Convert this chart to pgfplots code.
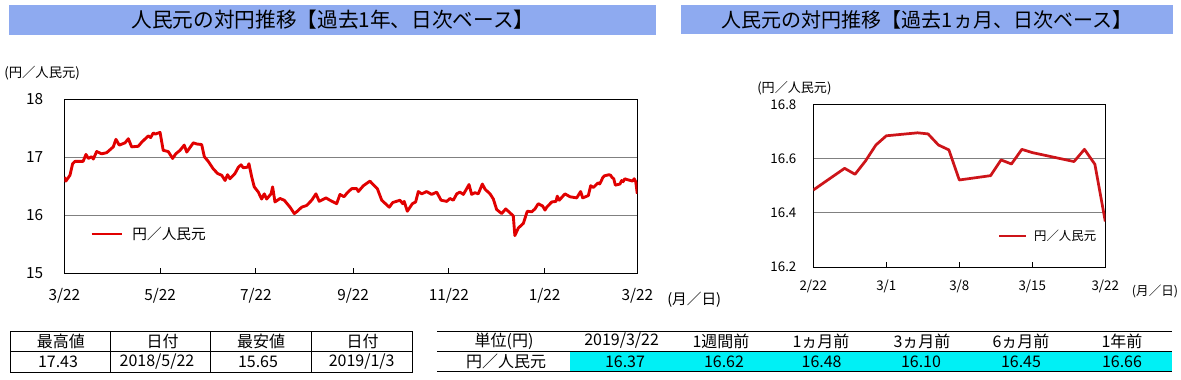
\documentclass[border=0pt]{standalone}
\usepackage{fontspec}
\setmainfont{Noto Sans CJK JP}
\usepackage{pgfplots}
\pgfplotsset{compat=1.18}
\definecolor{banner}{RGB}{142,170,240}
\definecolor{lred}{RGB}{225,0,0}
\definecolor{rred}{RGB}{205,20,25}
\definecolor{cyanfill}{RGB}{0,240,245}
\definecolor{gridgray}{RGB}{128,128,128}
\newcommand{\fs}[1]{\fontsize{#1}{#1}\selectfont}
\begin{document}
\begin{tikzpicture}[x=0.75pt,y=-0.75pt]
\path[use as bounding box] (0,0) rectangle (1181,379);
% banners
\fill[banner] (9,5) rectangle (656,35);
\fill[banner] (681,5) rectangle (1173,33.5);
\node[font=\fs{15.5}] at (333,20) {人民元の対円推移【過去1年、日次ベース】};
\node[font=\fs{15}] at (927,19.5) {人民元の対円推移【過去1ヵ月、日次ベース】};
% axis captions
\node[font=\fs{10}, anchor=west, inner sep=0pt] at (4,73) {(円／人民元)};
\node[font=\fs{9.8}, anchor=west, inner sep=0pt] at (757,88.3) {(円／人民元)};
\node[font=\fs{11}, anchor=west, inner sep=0pt] at (667,300) {(月／日)};
\node[font=\fs{9.4}, anchor=west, inner sep=0pt] at (1131.7,291.7) {(月／日)};

\coordinate (A1) at (64.3,273.3);
\coordinate (A2) at (813.3,267);

\begin{axis}[at={(A1)}, anchor=south west, scale only axis,
  width=429.75pt, height=130.5pt,
  xmin=0, xmax=365, ymin=15, ymax=18,
  xtick={0,61,122,184,245,306,365},
  xticklabels={3/22,5/22,7/22,9/22,11/22,1/22,3/22},
  ytick={15,16,17,18}, yticklabels={15,16,17,18},
  tick align=inside, xtick pos=bottom, ytick pos=left,
  major tick length=3.75pt,
  ytick style={draw=none},
  xtick style={black,line width=0.75pt},
  ymajorgrids, major grid style={gridgray, line width=0.75pt},
  axis line style={black, line width=0.75pt},
  xticklabel style={font=\fs{11.5}, anchor=north, inner sep=0pt, yshift=-11pt},
  yticklabel style={font=\fs{11.5}, anchor=east, inner sep=0pt, xshift=-15.75pt},
  legend style={at={(0.0449,0.226)}, anchor=west, draw=none, fill=none,
    inner sep=0pt, font=\fs{11}, column sep=5pt},
  legend image code/.code={\draw[#1] (0pt,0pt) -- (22.5pt,0pt);},
]
\addplot[lred, line width=2.15pt, line join=round] coordinates {
(0,16.66) (1,16.59) (3.6,16.69) (5.3,16.89) (6.8,16.93) (12,16.93) (13.8,17.05)
(15.3,16.98) (17.4,17.01) (18.5,16.97) (20.6,17.10) (23.8,17.06) (27,17.08)
(31.2,17.18) (32.9,17.31) (35,17.21) (38.7,17.25) (40.8,17.32) (42.9,17.18)
(47.1,17.19) (49.3,17.26) (53.5,17.37) (55,17.34) (56.7,17.42) (58,17.40)
(61,17.43) (63,17.12) (66.2,17.10) (69,16.98) (71,17.06) (73.7,17.12)
(76.4,17.21) (78,17.09) (82.2,17.25) (84.3,17.23) (87.5,17.22) (89.2,17.01)
(91.7,16.93) (94.9,16.80) (97.7,16.72) (100.3,16.69) (102.4,16.60) (104,16.70)
(105.5,16.63) (108.7,16.72) (110.9,16.83) (112.6,16.87) (114,16.82) (116.8,16.83)
(117.6,16.89) (119.4,16.66) (121,16.49) (123.6,16.40) (125.7,16.28) (127.4,16.37)
(128.9,16.28) (131.7,16.37) (132.7,16.49) (134.2,16.23) (137.4,16.29) (140.1,16.26)
(143.8,16.14) (146.5,16.03) (148,16.06) (151.2,16.14) (154.4,16.17) (157.6,16.26)
(160.3,16.37) (162.4,16.24) (166.7,16.30) (169.2,16.26) (173.5,16.20) (175.6,16.36)
(178.2,16.32) (180.3,16.39) (183.1,16.46) (186.3,16.46) (187.3,16.41) (190.5,16.51)
(194.7,16.59) (196,16.55) (199.4,16.46) (202.2,16.26) (205.4,16.18) (207,16.14)
(209.2,16.22) (213.8,16.26) (215.6,16.20) (216.5,16.24) (218.5,16.07) (221.7,16.20)
(223.8,16.23) (225.5,16.41) (227.7,16.37) (230.8,16.41) (234,16.36) (237.2,16.40)
(240,16.26) (243.6,16.24) (245.7,16.29) (247.8,16.26) (250,16.37) (252,16.40)
(254.2,16.36) (257.8,16.53) (259.5,16.36) (261.6,16.39) (263.7,16.37) (266.3,16.54)
(268,16.45) (271.2,16.37) (273.3,16.28) (275.4,16.10) (278.6,16.03) (281.2,16.11)
(286,15.99) (287,15.65) (289.2,15.78) (292.4,15.86) (294.9,16.07) (297.7,16.06)
(299.8,16.11) (301.9,16.20) (304.7,16.16) (306.2,16.09) (307.3,16.14) (310.5,16.23)
(313.2,16.24) (314,16.33) (315.3,16.26) (318.9,16.37) (322.1,16.32) (326.4,16.30)
(328.9,16.41) (330.2,16.30) (333.8,16.34) (335.3,16.51) (337,16.48) (340,16.56)
(341,16.54) (342,16.59) (343,16.65) (344,16.68) (347,16.70) (348,16.69) (349,16.65)
(350,16.63) (351,16.52) (354,16.54) (355,16.60) (356,16.58) (357,16.63) (358,16.62)
(362,16.59) (363,16.63) (364,16.58) (365,16.37)
};
\addlegendentry{円／人民元}
\end{axis}

\begin{axis}[at={(A2)}, anchor=south west, scale only axis,
  width=219pt, height=122pt,
  xmin=0, xmax=28, ymin=16.2, ymax=16.8,
  xtick={0,7,14,21,28},
  xticklabels={2/22,3/1,3/8,3/15,3/22},
  ytick={16.2,16.4,16.6,16.8}, yticklabels={16.2,16.4,16.6,16.8},
  tick align=inside, xtick pos=bottom, ytick pos=left,
  major tick length=3.5pt,
  ytick style={draw=none},
  xtick style={black,line width=0.75pt},
  ymajorgrids, major grid style={gridgray, line width=0.75pt},
  axis line style={black, line width=0.75pt},
  xticklabel style={font=\fs{10}, anchor=north, inner sep=0pt, yshift=-9.75pt},
  yticklabel style={font=\fs{10}, anchor=east, inner sep=0pt, xshift=-12.5pt},
  legend style={at={(0.632,0.19)}, anchor=west, draw=none, fill=none,
    inner sep=0pt, font=\fs{9.3}, column sep=3pt},
  legend image code/.code={\draw[#1] (0pt,0pt) -- (20pt,0pt);},
]
\addplot[rred, line width=2.05pt, line join=round] coordinates {
(0,16.484) (3,16.564) (4,16.542) (5,16.591) (6,16.650) (7,16.684) (10,16.695)
(11,16.691) (12,16.650) (13,16.632) (14,16.521) (17,16.537) (18,16.595)
(19,16.580) (20,16.634) (21,16.622) (25,16.589) (26,16.634) (27,16.579) (28,16.368)
};
\addlegendentry{円／人民元}
\end{axis}

% left table
\draw[line width=0.75pt] (10,331) rectangle (412.7,372.7);
\draw[line width=0.75pt] (10,351) -- (412.7,351);
\foreach \x in {110,210.7,311.7} \draw[line width=0.75pt] (\x,331) -- (\x,372.7);
\begin{scope}[every node/.style={font=\fs{12}, inner sep=0pt}]
\node at (60.8,341) {最高値};
\node at (162.5,341) {日付};
\node at (261,341) {最安値};
\node at (362.5,341) {日付};
\node at (58,362) {17.43};
\node at (157,362) {2018/5/22};
\node at (258,362) {15.65};
\node at (361.7,362) {2019/1/3};
\end{scope}
% right table
\fill[cyanfill] (570,351) rectangle (1172,371.5);
\draw[line width=0.75pt] (437,331) -- (1172,331);
\draw[line width=0.75pt] (437,351) -- (1172,351);
\draw[line width=0.75pt] (437,371.5) -- (1172,371.5);
\begin{scope}[every node/.style={font=\fs{12}, inner sep=0pt}]
\node at (504,341) {単位(円)};
\node at (621.6,341) {2019/3/22};
\node at (721,341) {1週間前};
\node at (821,341) {1ヵ月前};
\node at (922,341) {3ヵ月前};
\node at (1021,341) {6ヵ月前};
\node at (1122,341) {1年前};
\node at (506,361.5) {円／人民元};
\node at (625,361.5) {16.37};
\node at (724,361.5) {16.62};
\node at (821.6,361.5) {16.48};
\node at (921,361.5) {16.10};
\node at (1021,361.5) {16.45};
\node at (1122,361.5) {16.66};
\end{scope}
\end{tikzpicture}
\end{document}
